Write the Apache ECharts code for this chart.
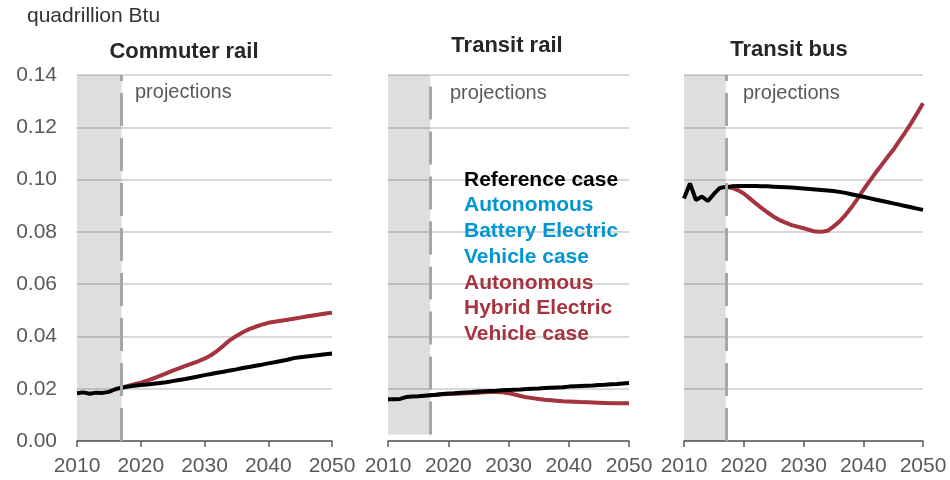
<!DOCTYPE html>
<html><head><meta charset="utf-8">
<script src="https://cdn.jsdelivr.net/npm/echarts@6/dist/echarts.min.js"></script>
<style>html,body{margin:0;padding:0;background:#fff}#c{width:950px;height:480px}</style>
</head><body><div id="c"></div>
<script>
// ---------- data ----------
const years = [2010,2011,2012,2013,2014,2015,2016,2017,2018,2019,2020,2021,2022,2023,2024,2025,2026,2027,2028,2029,2030,
  2031,2032,2033,2034,2035,2036,2037,2038,2039,2040,2041,2042,2043,2044,2045,2046,2047,2048,2049,2050];
const xTicks = [2010, 2020, 2030, 2040, 2050];
const yTicks = [0.00, 0.02, 0.04, 0.06, 0.08, 0.10, 0.12, 0.14];
const historyStart = 2010;
const historyEnd = 2017;
const unitLabel = 'quadrillion Btu';
const projLabel = 'projections';
const panelTitles = ['Commuter rail', 'Transit rail', 'Transit bus'];
const caseNames = ['Reference case', 'Autonomous Battery Electric Vehicle case', 'Autonomous Hybrid Electric Vehicle case'];
const legendLines = [['Reference case'], ['Autonomous', 'Battery Electric', 'Vehicle case'], ['Autonomous', 'Hybrid Electric', 'Vehicle case']];

// Commuter rail
const commuterRef = [0.0183,0.0186,0.0181,0.0185,0.0184,0.0188,0.0198,0.0204,0.0208,0.0211,0.0214,0.0216,0.0219,0.0222,0.0225,0.0229,0.0233,0.0237,0.0242,0.0247,0.0252,
  0.0256,0.0261,0.0265,0.0270,0.0274,0.0279,0.0283,0.0288,0.0292,0.0297,0.0301,0.0306,0.0311,0.0317,0.0320,0.0323,0.0326,0.0329,0.0332,0.0335];
const commuterHybrid = [null,null,null,null,null,null,null,0.0204,0.0211,0.0217,0.0223,0.0231,0.0240,0.0249,0.0259,0.0269,0.0278,0.0287,0.0296,0.0305,0.0315,
  0.0328,0.0345,0.0365,0.0386,0.0402,0.0416,0.0428,0.0437,0.0445,0.0452,0.0456,0.0460,0.0464,0.0468,0.0472,0.0476,0.0480,0.0484,0.0488,0.0491];
const commuterBattery = commuterHybrid; // drawn beneath the hybrid line, hidden in the source

// Transit rail
const railRef = [0.0160,0.0160,0.0161,0.0168,0.0170,0.0171,0.0173,0.0175,0.0177,0.0180,0.0182,0.0183,0.0185,0.0186,0.0187,0.0189,0.0190,0.0191,0.0192,0.0194,0.0195,
  0.0196,0.0197,0.0199,0.0200,0.0201,0.0203,0.0204,0.0205,0.0206,0.0208,0.0209,0.0210,0.0211,0.0212,0.0214,0.0215,0.0217,0.0218,0.0220,0.0222];
const railHybrid = [null,null,null,null,null,null,null,0.0175,0.0177,0.0179,0.0180,0.0181,0.0182,0.0183,0.0184,0.0185,0.0186,0.0187,0.0187,0.0186,0.0183,
  0.0178,0.0172,0.0167,0.0164,0.0161,0.0158,0.0156,0.0154,0.0152,0.0151,0.0150,0.0149,0.0148,0.0147,0.0146,0.0145,0.0144,0.0144,0.0144,0.0144];
const railBattery = railHybrid;

// Transit bus
const busRef = [0.0928,0.0985,0.0922,0.0935,0.0918,0.0945,0.0968,0.0972,0.0974,0.0975,0.0975,0.0975,0.0975,0.0974,0.0974,0.0973,0.0972,0.0971,0.0970,0.0968,0.0966,
  0.0964,0.0962,0.0960,0.0958,0.0956,0.0953,0.0949,0.0944,0.0939,0.0934,0.0929,0.0924,0.0919,0.0914,0.0909,0.0904,0.0899,0.0894,0.0889,0.0884];
const busHybrid = [null,null,null,null,null,null,null,0.0972,0.0968,0.0960,0.0947,0.0928,0.0909,0.0891,0.0874,0.0858,0.0845,0.0835,0.0826,0.0820,0.0814,
  0.0807,0.0801,0.0800,0.0804,0.0820,0.0839,0.0864,0.0893,0.0925,0.0960,0.0992,0.1024,0.1054,0.1084,0.1113,0.1147,0.1180,0.1215,0.1253,0.1292];
const busBattery = busHybrid;

// ---------- chart ----------
const FONT = '"Liberation Sans", Arial, sans-serif';
const C_REF = '#000000', C_BEV = '#0a96d6', C_HEV = '#a6343f';
const AXIS_C = '#595959', GRID_C = '#d9d9d9', SHADE_C = 'rgba(0,0,0,0.13)', DASH_C = '#a6a6a6';

const panels = [
  {ref: commuterRef, bev: commuterBattery, hev: commuterHybrid, shadeBottom: 0},
  {ref: railRef, bev: railBattery, hev: railHybrid, shadeBottom: 0.0025},
  {ref: busRef, bev: busBattery, hev: busHybrid, shadeBottom: 0}
];
const gridBoxes = [
  {left: 77, width: 255, top: 75, height: 366},
  {left: 388, width: 241, top: 75, height: 366},
  {left: 684, width: 239, top: 75, height: 366}
];
const pairs = arr => years.map((y, i) => [y, arr[i]]);

const grid = [], xAxis = [], yAxis = [], series = [];
panels.forEach((p, i) => {
  grid.push(Object.assign({containLabel: false}, gridBoxes[i]));
  xAxis.push({
    gridIndex: i, type: 'value', min: xTicks[0], max: xTicks[xTicks.length - 1], interval: 10,
    axisLine: {show: true, onZero: false, lineStyle: {color: AXIS_C, width: 1.5}},
    axisTick: {show: true, length: 6, lineStyle: {color: AXIS_C, width: 1.5}},
    axisLabel: {fontSize: 21, color: AXIS_C, margin: 15, fontFamily: FONT, showMinLabel: true, showMaxLabel: true,
      formatter: v => String(v)},
    splitLine: {show: false}
  });
  yAxis.push({
    gridIndex: i, type: 'value', min: yTicks[0], max: yTicks[yTicks.length - 1], interval: 0.02,
    axisLine: {show: false}, axisTick: {show: false},
    axisLabel: {show: i === 0, fontSize: 21, color: AXIS_C, margin: 20, fontFamily: FONT, formatter: v => v.toFixed(2)},
    splitLine: {show: true, lineStyle: {color: GRID_C, width: 2}}
  });
  // history shading + projection divider
  series.push({
    type: 'line', xAxisIndex: i, yAxisIndex: i, data: [], z: 1, silent: true,
    markArea: {silent: true, itemStyle: {color: SHADE_C},
      data: [[{coord: [historyStart, p.shadeBottom]}, {coord: [historyEnd, yTicks[yTicks.length - 1]]}]]},
    markLine: {silent: true, symbol: ['none', 'none'], label: {show: false},
      lineStyle: {color: DASH_C, width: 3, type: [33, 12]},
      data: [[{coord: [historyEnd, p.shadeBottom]}, {coord: [historyEnd, yTicks[yTicks.length - 1]]}]]}
  });
  series.push({name: caseNames[1], type: 'line', xAxisIndex: i, yAxisIndex: i, data: pairs(p.bev), z: 2,
    showSymbol: false, symbol: 'none', lineStyle: {color: C_BEV, width: 3}, connectNulls: false});
  series.push({name: caseNames[2], type: 'line', xAxisIndex: i, yAxisIndex: i, data: pairs(p.hev), z: 3,
    showSymbol: false, symbol: 'none', lineStyle: {color: C_HEV, width: 4}, connectNulls: false});
  series.push({name: caseNames[0], type: 'line', xAxisIndex: i, yAxisIndex: i, data: pairs(p.ref), z: 4,
    showSymbol: false, symbol: 'none', lineStyle: {color: C_REF, width: 4}});
});

const titlePos = [[184, 52], [507, 46], [789, 50]];
const projPos = [[135, 92], [450, 93], [743, 93]];
const graphic = [
  {type: 'text', left: 27, top: 6, style: {text: unitLabel, fontSize: 21, fill: '#333', fontFamily: FONT}}
];
panelTitles.forEach((t, i) => {
  graphic.push({type: 'text', x: titlePos[i][0], y: titlePos[i][1],
    style: {text: t, fontSize: 22, fontWeight: 'bold', fill: '#262626', fontFamily: FONT, align: 'center', verticalAlign: 'middle'}});
  graphic.push({type: 'text', x: projPos[i][0], y: projPos[i][1], z: 10,
    style: {text: projLabel, fontSize: 20, fill: AXIS_C, fontFamily: FONT, align: 'left', verticalAlign: 'middle'}});
});
const legendColors = [C_REF, '#0096d6', C_HEV];
let ly = 180;
legendLines.forEach((lines, k) => {
  lines.forEach(line => {
    graphic.push({type: 'text', x: 464, y: ly, z: 10,
      style: {text: line, fontSize: 21, fontWeight: 'bold', fill: legendColors[k], fontFamily: FONT, align: 'left', verticalAlign: 'middle'}});
    ly += 25.7;
  });
});

const chart = echarts.init(document.getElementById('c'), null, {renderer: 'canvas'});
chart.setOption({
  animation: false,
  backgroundColor: '#ffffff',
  textStyle: {fontFamily: FONT},
  grid, xAxis, yAxis, series, graphic
});
</script>
</body></html>
